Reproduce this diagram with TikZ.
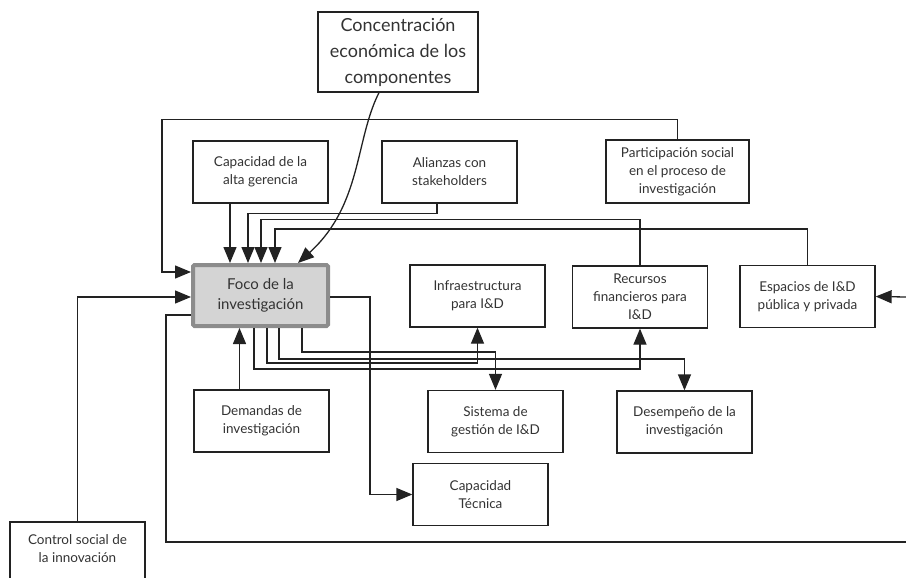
\documentclass[tikz,border=0pt]{standalone}
\usepackage{fontspec}
\setmainfont{Lato}
\usetikzlibrary{arrows.meta}

\begin{document}
\begin{tikzpicture}[x=1pt, y=-1pt,
    box/.style={draw=borderColour, line width=1.3pt, minimum width=135, minimum height=62,
        align=center, text=textColour, font=\fontsize{13.5}{18}\selectfont},
    focusbox/.style={box, fill=fillColour, draw=focusBorder, line width=4pt,
        rounded corners=1.5pt, minimum height=61, font=\fontsize{15}{20}\selectfont},
    link/.style={draw=borderColour, line width=1.3pt},
    arr/.style={link, -{Triangle[length=16pt, width=13pt]}}
]
    % Colours
    \definecolor{borderColour}{HTML}{222222}
    \definecolor{textColour}{HTML}{333333}
    \definecolor{fillColour}{HTML}{D4D4D4}
    \definecolor{focusBorder}{HTML}{8C8C8C}

    \useasboundingbox (0,0) rectangle (906,578);

    % Draw the boxes
    \node[box, minimum width=160, minimum height=80, font=\fontsize{18}{26}\selectfont]
        (conc) at (398,52) {Concentración\\económica de los\\componentes};
    \node[box] (gerencia) at (260.5,172) {Capacidad de la\\alta gerencia};
    \node[box] (alianzas) at (449.5,172) {Alianzas con\\stakeholders};
    \node[box, minimum width=143, minimum height=63] (particip) at (677.5,171.5)
        {Participación social\\en el proceso de\\investigación};
    \node[focusbox] (foco) at (260.5,295.5) {Foco de la\\investigación};
    \node[box] (infra) at (477.5,296) {Infraestructura\\para I\&D};
    \node[box] (recursos) at (640,297) {Recursos\\financieros para\\I\&D};
    \node[box] (espacios) at (807.5,296.5) {Espacios de I\&D\\pública y privada};
    \node[box] (demandas) at (261.5,421) {Demandas de\\investigación};
    \node[box] (sistema) at (495.5,421.5) {Sistema de\\gestión de I\&D};
    \node[box] (desemp) at (684.5,422) {Desempeño de la\\investigación};
    \node[box] (tecnica) at (480.5,494.5) {Capacidad\\Técnica};
    \node[box, text depth=8pt] (control) at (77.5,553) {Control social de\\la innovación};

    % Loose ends at the right margin
    \coordinate (inR) at (906,297);
    \coordinate (outR) at (906,542);

    % Arrows into the focus box
    \draw[arr] (conc.south) ++(-19,0) .. controls (355,140) and (362,205) .. ([xshift=37.5]foco.north);
    \draw[arr] ([xshift=-30.5]gerencia.south) -- ([xshift=-30.5]foco.north);
    \draw[arr] ([xshift=-12.5]alianzas.south) -- ++(0,10) -| ([xshift=-12.5]foco.north);
    \draw[arr] (recursos.north) -- ++(0,-46) -| ([xshift=0.5]foco.north);
    \draw[arr] (espacios.north) -- ++(0,-36) -| ([xshift=14.5]foco.north);
    \draw[arr] (particip.north) -- ++(0,-20) -| ([xshift=-29,yshift=23.5]foco.west)
        -- ([yshift=23.5]foco.west);
    \draw[arr] (control.north) |- ([yshift=-1.5]foco.west);
    \draw[arr] ([xshift=-22]demandas.north) -- ([xshift=-21]foco.south);
    \draw[arr] (inR) -- (espacios.east);

    % Lines out of the focus box
    \draw[link] ([yshift=-19.5]foco.west) -- ++(-25,0) |- (outR);
    \draw[arr] ([yshift=-1.5]foco.east) -- ++(40,0) |- (tecnica.west);
    \draw[arr] ([xshift=-6.5]foco.south) -- ++(0,41) -| (recursos.south);
    \draw[arr] ([xshift=6.5]foco.south) -- ++(0,35) -| (infra.south);
    \draw[arr] ([xshift=18.5]foco.south) -- ++(0,31) -| (desemp.north);
    \draw[arr] ([xshift=41.5]foco.south) -- ++(0,24) -| (sistema.north);

\end{tikzpicture}
\end{document}
